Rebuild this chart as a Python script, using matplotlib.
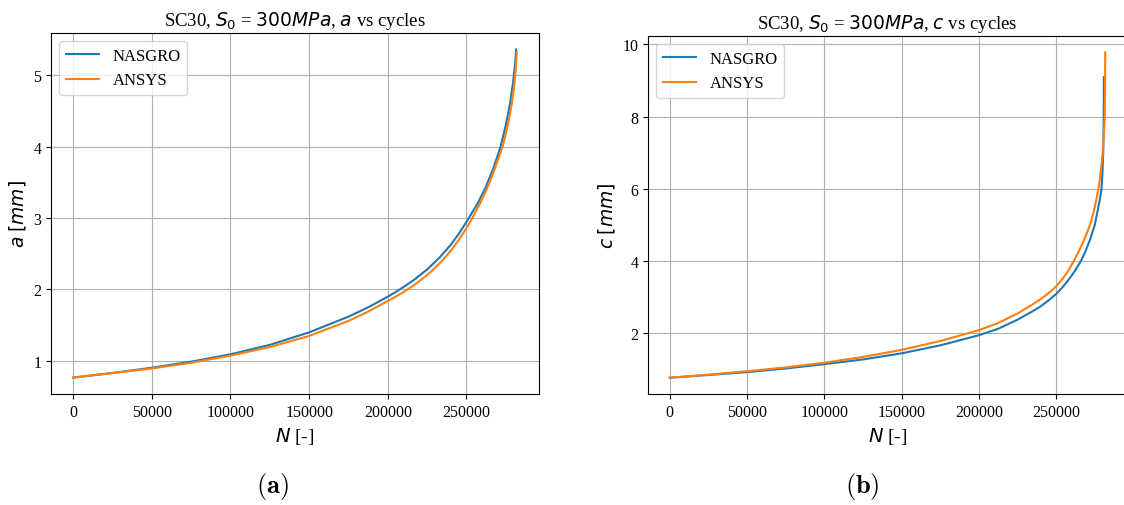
import matplotlib
matplotlib.use("Agg")
import matplotlib.pyplot as plt

plt.rcParams["font.family"] = ["Liberation Serif", "DejaVu Serif"]
plt.rcParams["mathtext.fontset"] = "dejavusans"

# crack depth a [mm] vs cycles (panel a)
a_nasgro_n = [0, 25000, 50000, 75000, 100000, 125000, 150000, 175000, 187500,
              200000, 205000, 210000, 216400, 225000, 233000, 240000, 245000,
              250400, 257000, 262000, 267000, 271700, 275000, 277500, 279500,
              280300, 281000, 281600]
a_nasgro = [0.767, 0.832, 0.905, 0.99, 1.093, 1.225, 1.40, 1.62, 1.75,
            1.90, 1.965, 2.035, 2.13, 2.28, 2.45, 2.625, 2.775,
            2.96, 3.2, 3.42, 3.69, 4.0, 4.3, 4.58, 4.88,
            5.03, 5.18, 5.36]
a_ansys_n = [0, 25000, 50000, 75000, 100000, 125000, 150000, 175000, 187500,
             200000, 205000, 210000, 216000, 222000, 228000, 234000, 240000,
             245000, 250000, 254000, 259000, 264000, 268500, 273000, 276300,
             278800, 280300, 281200, 282000]
a_ansys = [0.767, 0.83, 0.895, 0.975, 1.075, 1.195, 1.35, 1.56, 1.69,
           1.84, 1.90, 1.965, 2.05, 2.15, 2.26, 2.39, 2.54,
           2.69, 2.86, 3.01, 3.22, 3.46, 3.72, 4.0, 4.3,
           4.6, 4.85, 5.05, 5.32]

# crack half-length c [mm] vs cycles (panel b)
c_nasgro_n = [0, 25000, 50000, 75000, 100000, 125000, 150000, 175000, 200000,
              212500, 225000, 235000, 240000, 245000, 250000, 254000, 258000,
              262000, 266000, 269000, 272000, 275000, 277000, 278500, 279400,
              280000, 280500, 280800, 280850, 280900]
c_nasgro = [0.775, 0.85, 0.93, 1.03, 1.15, 1.28, 1.45, 1.67, 1.95,
            2.13, 2.38, 2.62, 2.75, 2.91, 3.09, 3.27, 3.48,
            3.72, 4.0, 4.27, 4.6, 5.0, 5.42, 5.75, 6.0,
            6.45, 7.0, 7.8, 8.2, 9.09]
c_ansys_n = [0, 25000, 50000, 75000, 100000, 125000, 150000, 175000, 200000,
             212500, 225000, 235000, 240000, 245000, 250000, 254000, 258000,
             261400, 265000, 268000, 270500, 272300, 274500, 276300, 277800,
             279200, 280200, 281000, 281500, 281700, 281800]
c_ansys = [0.775, 0.86, 0.955, 1.06, 1.19, 1.35, 1.545, 1.79, 2.09,
           2.29, 2.55, 2.81, 2.95, 3.11, 3.30, 3.5, 3.74,
           4.0, 4.3, 4.58, 4.84, 5.05, 5.4, 5.75, 6.1,
           6.6, 7.0, 7.6, 8.0, 8.8, 9.78]

panels = [
    ("a", a_nasgro_n, a_nasgro, a_ansys_n, a_ansys, [1, 2, 3, 4, 5], "(a)"),
    ("c", c_nasgro_n, c_nasgro, c_ansys_n, c_ansys, [2, 4, 6, 8, 10], "(b)"),
]

W, H = 1124, 506
fig = plt.figure(figsize=(W / 100, H / 100), dpi=100)
rects = [
    [51 / W, (H - 395) / H, (539 - 51) / W, (395 - 34) / H],
    [648 / W, (H - 395) / H, (1127 - 648) / W, (395 - 37) / H],
]
caption_x = [272 / W, 862 / W]

for i, (var, n1, y1, n2, y2, yticks, cap) in enumerate(panels):
    ax = fig.add_axes(rects[i])
    ax.plot(n1, y1, color="#1f77b4", lw=1.5, label="NASGRO")
    ax.plot(n2, y2, color="#ff7f0e", lw=1.5, label="ANSYS")
    ax.set_yticks(yticks)
    ax.set_xticks([0, 50000, 100000, 150000, 200000, 250000])
    ax.grid(True, color="#b0b0b0", lw=0.8)
    ax.tick_params(labelsize=11.5)
    ax.set_title(rf"SC30, $S_0$ = $300MPa$, ${var}$ vs cycles", fontsize=13.5)
    ax.set_xlabel(r"$N$ [-]", fontsize=14)
    ax.set_ylabel(rf"${var}$ $[mm]$", fontsize=13.5)
    ax.legend(loc="upper left", fontsize=12)
    fig.text(caption_x[i], 1 - 487 / H, rf"$\mathbf{{{cap}}}$",
             math_fontfamily="cm", fontsize=19, ha="center", va="center")

fig.savefig("out.png", dpi=100)
